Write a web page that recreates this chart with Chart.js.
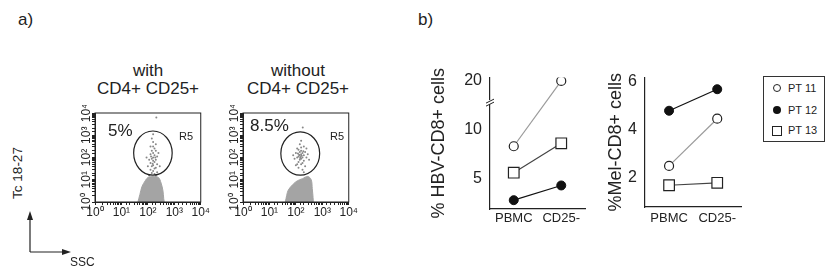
<!DOCTYPE html>
<html>
<head>
<meta charset="utf-8">
<script src="https://cdn.jsdelivr.net/npm/chart.js@4.4.1/dist/chart.umd.min.js"></script>
<style>
body { margin: 0; background: #fff; font-family: 'Liberation Sans', Arial, sans-serif; color: #222; }
#page { position: relative; width: 834px; height: 270px; overflow: hidden; }
canvas, .t { position: absolute; }
.t { white-space: nowrap; line-height: 1; }
.c { transform: translate(-50%, -50%); }
.legend { position: absolute; left: 763px; top: 76px; width: 62px; height: 66px; border: 1px solid #333; box-sizing: border-box; }
.legend .m { position: absolute; box-sizing: border-box; }
.legend .l { position: absolute; left: 24px; font-size: 11px; line-height: 1; }
</style>
</head>
<body>
<div id="page">
  <div class="t" style="left:18px;top:11px;font-size:17px">a)</div>
  <div class="t" style="left:418px;top:11px;font-size:17px">b)</div>

  <div class="t c" style="left:148px;top:70px;font-size:17px">with</div>
  <div class="t c" style="left:148px;top:88px;font-size:17px">CD4+ CD25+</div>
  <div class="t c" style="left:298px;top:70px;font-size:17px">without</div>
  <div class="t c" style="left:298px;top:88px;font-size:17px">CD4+ CD25+</div>

  <canvas id="flowWith" width="140" height="120" style="left:70px;top:105px"></canvas>
  <canvas id="flowWithout" width="140" height="120" style="left:218px;top:105px"></canvas>

  <div class="t" style="left:108px;top:122px;font-size:17px">5%</div>
  <div class="t" style="left:179px;top:131px;font-size:11px">R5</div>
  <div class="t" style="left:250px;top:117px;font-size:17px">8.5%</div>
  <div class="t" style="left:330px;top:131px;font-size:11px">R5</div>

  <div class="t c" style="left:18px;top:173px;font-size:13.5px;transform:translate(-50%,-50%) rotate(-90deg)">Tc 18-27</div>
  <svg style="position:absolute;left:0;top:200px" width="90" height="60">
    <line x1="30" y1="52" x2="30" y2="18" stroke="#222" stroke-width="1.2"/>
    <polygon points="30,11 27,20 33,20" fill="#222"/>
    <line x1="30" y1="52" x2="64" y2="52" stroke="#222" stroke-width="1.2"/>
    <polygon points="71,52 62,49 62,55" fill="#222"/>
  </svg>
  <div class="t" style="left:70px;top:256px;font-size:12px">SSC</div>

  <canvas id="hbv" width="170" height="175" style="left:425px;top:60px"></canvas>
  <canvas id="mel" width="150" height="175" style="left:600px;top:60px"></canvas>

  <div class="legend">
    <div class="m" style="left:9px;top:7px;width:8px;height:8px;border:1px solid #222;border-radius:50%"></div>
    <div class="l" style="top:6px">PT 11</div>
    <div class="m" style="left:9px;top:29px;width:8px;height:8px;background:#111;border-radius:50%"></div>
    <div class="l" style="top:28px">PT 12</div>
    <div class="m" style="left:8px;top:49px;width:10px;height:10px;border:1px solid #222"></div>
    <div class="l" style="top:48px">PT 13</div>
  </div>
</div>

<script>
// a) flow plots: dense cluster outline, sparse events, gate R5
const clusterWithX = [42, 50, 60, 79, 100, 158, 251, 316, 372, 398, 417];
const clusterWithY = [1, 2.2, 5, 8.9, 12.6, 14.1, 12.6, 7.1, 3.2, 1.4, 1];
const clusterWithoutX = [40, 45, 52, 79, 112, 178, 282, 380, 417, 447, 457];
const clusterWithoutY = [1, 2, 3.5, 6.3, 8.9, 11.2, 14.1, 10, 4, 1.6, 1];

const eventsWithX = [158, 178, 141, 200, 158, 126, 178, 224, 158, 141, 200, 112, 158, 178, 126, 224, 158, 141, 200, 100,
  178, 126, 158, 224, 141, 178, 112, 200, 158, 200, 126, 251, 89, 282, 209, 158, 141, 151, 191, 132];
const eventsWithY = [316, 251, 200, 200, 158, 141, 126, 112, 100, 89, 79, 79, 71, 63, 56, 50, 45, 40, 35, 40,
  32, 28, 25, 22, 20, 18, 16, 16, 501, 398, 316, 158, 100, 40, 6310, 1122, 708, 52, 100, 112];
const eventsWithoutX = [141, 158, 126, 178, 112, 158, 200, 141, 126, 178, 158, 224, 100, 141, 200, 126, 178, 158, 112, 200,
  141, 251, 89, 158, 224, 126, 178, 100, 251, 132, 151, 166, 120, 191, 145, 282, 79, 158, 112, 200, 182, 316];
const eventsWithoutY = [126, 141, 112, 158, 100, 200, 126, 178, 224, 100, 89, 178, 158, 79, 71, 63, 56, 282, 251, 316,
  398, 100, 89, 50, 40, 35, 28, 45, 251, 132, 105, 120, 151, 191, 95, 141, 126, 562, 50, 22, 2239, 79];

const gateWithX = [29, 830];
const gateWithY = [16, 1550];
const gateWithoutX = [27, 794];
const gateWithoutY = [16, 1410];

const decades = [1, 10, 100, 1000, 10000];
const sup = ['\u2070', '\u00b9', '\u00b2', '\u00b3', '\u2074'];

// b) patients
const groups = ['PBMC', 'CD25-'];
const hbvPT11 = [8.3, 20];
const hbvPT12 = [2.8, 4.3];
const hbvPT13 = [5.6, 8.6];
const melPT11 = [2.5, 4.45];
const melPT12 = [4.78, 5.67];
const melPT13 = [1.7, 1.8];
const hbvTicks = [5, 10, 20];
const melTicks = [2, 4, 6];

// broken HBV axis: values above breakAt are squeezed
const breakAt = 12.8;
const brk = v => v <= breakAt ? v : breakAt + (v - breakAt) * 0.3;

Chart.defaults.font.family = "'Liberation Sans', Arial, sans-serif";
Chart.defaults.color = '#222';
Chart.defaults.animation = false;

const flowFrame = {
  id: 'flowFrame',
  afterDatasetsDraw(chart, args, opts) {
    const { ctx, chartArea: a, scales } = chart;
    ctx.save();
    ctx.strokeStyle = '#222';
    ctx.lineWidth = 1;
    ctx.strokeRect(a.left, a.top, a.right - a.left, a.bottom - a.top);
    // gate
    const x0 = scales.x.getPixelForValue(opts.x[0]), x1 = scales.x.getPixelForValue(opts.x[1]);
    const y0 = scales.y.getPixelForValue(opts.y[0]), y1 = scales.y.getPixelForValue(opts.y[1]);
    ctx.lineWidth = 1.2;
    ctx.beginPath();
    ctx.ellipse((x0 + x1) / 2, (y0 + y1) / 2, Math.abs(x1 - x0) / 2, Math.abs(y1 - y0) / 2, 0, 0, Math.PI * 2);
    ctx.stroke();
    // rotated y labels
    ctx.fillStyle = '#222';
    ctx.font = "12px 'Liberation Sans', Arial, sans-serif";
    ctx.textAlign = 'center';
    ctx.textBaseline = 'middle';
    decades.forEach((d, i) => {
      ctx.save();
      ctx.translate(a.left - 8, scales.y.getPixelForValue(d));
      ctx.rotate(-Math.PI / 2);
      ctx.fillText('10' + sup[i], 0, 0);
      ctx.restore();
    });
    ctx.restore();
  }
};

function decadeLabel(v) {
  const i = decades.indexOf(v);
  return i < 0 ? '' : '10' + sup[i];
}

function flowChart(id, clusterX, clusterY, evX, evY, gateX, gateY, padRight) {
  return new Chart(document.getElementById(id), {
    type: 'scatter',
    data: {
      datasets: [
        {
          data: evX.map((x, i) => ({ x, y: evY[i] })),
          pointRadius: 1, pointBorderWidth: 0, pointBackgroundColor: '#888'
        },
        {
          data: clusterX.map((x, i) => ({ x, y: clusterY[i] })),
          showLine: true, fill: 'shape', tension: 0.35,
          backgroundColor: '#a4a4a4', borderColor: '#a4a4a4', borderWidth: 1, pointRadius: 0
        }
      ]
    },
    options: {
      responsive: false,
      layout: { padding: { left: 0, right: padRight, top: 8, bottom: 5 } },
      plugins: { legend: { display: false }, tooltip: { enabled: false }, flowFrame: { x: gateX, y: gateY } },
      scales: {
        x: {
          type: 'logarithmic', min: 1, max: 10000,
          grid: { drawOnChartArea: false, tickLength: 3, color: '#222' },
          border: { color: '#222' },
          ticks: { autoSkip: false, maxRotation: 0, padding: 0, font: { size: 12 }, callback: decadeLabel },
          afterFit(scale) { scale.height = 18; }
        },
        y: {
          type: 'logarithmic', min: 1, max: 10000,
          grid: { drawOnChartArea: false, tickLength: 3, color: '#222' },
          border: { color: '#222' },
          ticks: { display: false },
          afterFit(scale) { scale.width = 25; }
        }
      }
    },
    plugins: [flowFrame]
  });
}

flowChart('flowWith', clusterWithX, clusterWithY, eventsWithX, eventsWithY, gateWithX, gateWithY, 8);
flowChart('flowWithout', clusterWithoutX, clusterWithoutY, eventsWithoutX, eventsWithoutY, gateWithoutX, gateWithoutY, 6);

function patientSets(pt11, pt12, pt13) {
  return [
    { label: 'PT 11', data: pt11, borderColor: '#9a9a9a', borderWidth: 1.2, pointStyle: 'circle', pointRadius: 4.5,
      pointBackgroundColor: '#fff', pointBorderColor: '#222', pointBorderWidth: 1.2 },
    { label: 'PT 12', data: pt12, borderColor: '#111', borderWidth: 1.2, pointStyle: 'circle', pointRadius: 4.5,
      pointBackgroundColor: '#111', pointBorderColor: '#111', pointBorderWidth: 1 },
    { label: 'PT 13', data: pt13, borderColor: '#444', borderWidth: 1.2, pointStyle: 'rect', pointRadius: 7.5,
      pointBackgroundColor: '#fff', pointBorderColor: '#222', pointBorderWidth: 1.2 }
  ];
}

function patientOptions(title, titlePad, min, max, tickValues, tickLabels, yWidth, xPad, xHeight, padRight) {
  return {
    responsive: false,
    layout: { padding: { left: 0, right: padRight, top: 15, bottom: 4 } },
    plugins: { legend: { display: false }, tooltip: { enabled: false } },
    scales: {
      x: {
        offset: true,
        grid: { display: false, drawTicks: false },
        border: { color: '#222', width: 1.2 },
        ticks: { padding: xPad, font: { size: 13 }, color: '#222' },
        afterFit(scale) { scale.height = xHeight; }
      },
      y: {
        min, max,
        grid: { display: false, drawTicks: false },
        border: { color: '#222', width: 1.2 },
        afterBuildTicks(scale) { scale.ticks = tickValues.map(value => ({ value })); },
        ticks: { padding: 8, font: { size: 16 }, color: '#222', callback: (v, i) => tickLabels[i] },
        title: { display: true, text: title, font: { size: 18 }, color: '#222', padding: { top: titlePad, bottom: 0 } },
        afterFit(scale) { scale.width = yWidth; }
      }
    }
  };
}

const axisBreak = {
  id: 'axisBreak',
  afterDraw(chart) {
    const { ctx, chartArea: a, scales } = chart;
    const y = scales.y.getPixelForValue(breakAt);
    ctx.save();
    ctx.fillStyle = '#fff';
    ctx.fillRect(a.left - 2, y - 2, 4, 4);
    ctx.strokeStyle = '#222';
    ctx.lineWidth = 1;
    ctx.beginPath();
    ctx.moveTo(a.left - 4, y + 1); ctx.lineTo(a.left + 4, y - 3);
    ctx.moveTo(a.left - 4, y + 4); ctx.lineTo(a.left + 4, y);
    ctx.stroke();
    ctx.restore();
  }
};

new Chart(document.getElementById('hbv'), {
  type: 'line',
  data: { labels: groups, datasets: patientSets(hbvPT11.map(brk), hbvPT12.map(brk), hbvPT13.map(brk)) },
  options: patientOptions('% HBV-CD8+ cells', 3, 1.9, 15.3, hbvTicks.map(brk), hbvTicks, 65, 2, 22, 10),
  plugins: [axisBreak]
});

new Chart(document.getElementById('mel'), {
  type: 'line',
  data: { labels: groups, datasets: patientSets(melPT11, melPT12, melPT13) },
  options: patientOptions('%Mel-CD8+ cells', 5, 0.8, 6.15, melTicks, melTicks, 45, 4, 24, 5)
});
</script>
</body>
</html>
